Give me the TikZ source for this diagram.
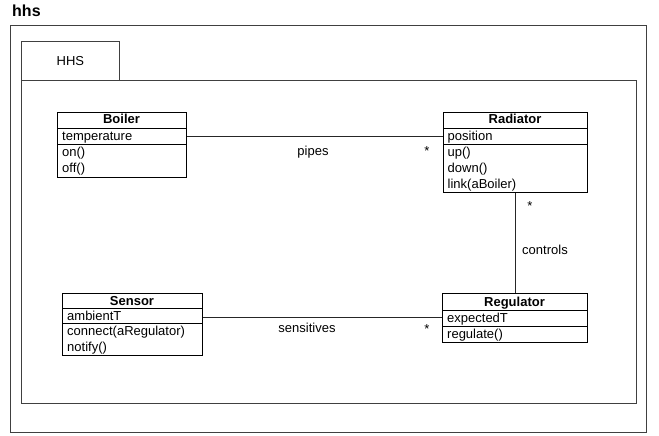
\documentclass[tikz,border=0pt]{standalone}
\usepackage{fontspec}
\setmainfont{Liberation Sans}
\usetikzlibrary{calc}
\begin{document}
\begin{tikzpicture}[x=1pt,y=-1pt,
  frame/.style={draw=black!75, line width=0.9pt, inner sep=0pt, anchor=north west},
  cls/.style={draw=black, line width=0.9pt, inner sep=0pt, anchor=north west},
  sep/.style={draw=black, line width=0.9pt},
  txt/.style={inner sep=0pt, anchor=base west, font=\fontsize{13}{16}\selectfont},
  ttl/.style={inner sep=0pt, anchor=base, font=\bfseries\fontsize{13}{16}\selectfont},
  lbl/.style={inner sep=0pt, anchor=base, font=\fontsize{13}{16}\selectfont},
  assoc/.style={draw=black!85, line width=0.8pt}]
\useasboundingbox (0,0) rectangle (659,436);
% frames
\node[inner sep=0pt, anchor=base west, font=\bfseries\fontsize{16}{18}\selectfont] (title) at (12,17) {hhs};
\node[frame, minimum width=636pt, minimum height=407pt] (outer) at (10,25) {};
\node[frame, minimum width=98pt, minimum height=39pt] (tab) at (21,41) {};
\node[inner sep=0pt, font=\fontsize{13}{16}\selectfont] (tabtext) at (tab.center) {HHS};
\node[frame, minimum width=615pt, minimum height=323pt] (pkg) at (21,80) {};
% Boiler
\node[cls, minimum width=129pt, minimum height=65pt] (boiler) at (57,112) {};
\draw[sep] (boiler.west |- 0,128) -- (boiler.east |- 0,128);
\draw[sep] (boiler.west |- 0,144) -- (boiler.east |- 0,144);
\node[ttl] (boilerT) at (121.5,124) {Boiler};
\node[txt] (boilerA) at (62,140) {temperature};
\node[txt] (boilerO1) at (62,156) {on()};
\node[txt] (boilerO2) at (62,172) {off()};
% Radiator
\node[cls, minimum width=144pt, minimum height=80pt] (radiator) at (443,112) {};
\draw[sep] (radiator.west |- 0,128) -- (radiator.east |- 0,128);
\draw[sep] (radiator.west |- 0,144) -- (radiator.east |- 0,144);
\node[ttl] (radiatorT) at (515,124) {Radiator};
\node[txt] (radiatorA) at (447.5,140) {position};
\node[txt] (radiatorO1) at (447.5,156) {up()};
\node[txt] (radiatorO2) at (447.5,172) {down()};
\node[txt] (radiatorO3) at (447.5,188) {link(aBoiler)};
% Sensor
\node[cls, minimum width=140pt, minimum height=62pt] (sensor) at (62,293) {};
\draw[sep] (sensor.west |- 0,308) -- (sensor.east |- 0,308);
\draw[sep] (sensor.west |- 0,323) -- (sensor.east |- 0,323);
\node[ttl] (sensorT) at (132,305) {Sensor};
\node[txt] (sensorA) at (67,320) {ambientT};
\node[txt] (sensorO1) at (67,335.5) {connect(aRegulator)};
\node[txt] (sensorO2) at (67,351) {notify()};
% Regulator
\node[cls, minimum width=145pt, minimum height=49pt] (regulator) at (442,293) {};
\draw[sep] (regulator.west |- 0,310) -- (regulator.east |- 0,310);
\draw[sep] (regulator.west |- 0,326) -- (regulator.east |- 0,326);
\node[ttl] (regulatorT) at (514.5,306) {Regulator};
\node[txt] (regulatorA) at (447,322) {expectedT};
\node[txt] (regulatorO1) at (447,338) {regulate()};
% associations
\draw[assoc] ($(boiler.north east)+(0,24)$) -- ($(radiator.north west)+(0,24)$);
\node[lbl] (pipes) at (313,155) {pipes};
\node[lbl] (pipesM) at (427,155) {*};
\draw[assoc] (radiator.south) -- (radiator.south |- regulator.north);
\node[lbl] (controls) at (545,254) {controls};
\node[lbl] (controlsM) at (530,210) {*};
\draw[assoc] ($(sensor.north east)+(0,24)$) -- ($(regulator.north west)+(0,24)$);
\node[lbl] (sens) at (307,332) {sensitives};
\node[lbl] (sensM) at (427,333) {*};
\end{tikzpicture}
\end{document}
